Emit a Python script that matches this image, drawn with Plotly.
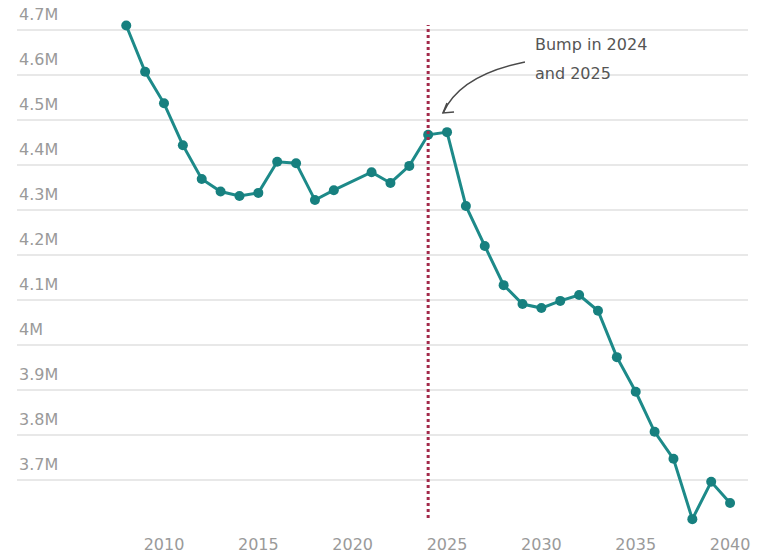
import plotly.graph_objects as go

# ---- data ----
years = list(range(2008, 2041))
values_m = [4.710, 4.607, 4.537, 4.444, 4.369, 4.341, 4.331, 4.338,
            4.407, 4.404, 4.322, 4.344, None, 4.384, 4.360, 4.398,
            4.467, 4.473, 4.309, 4.220, 4.133, 4.091, 4.082, 4.098,
            4.111, 4.076, 3.973, 3.896, 3.807, 3.747, 3.613, 3.696, 3.649]
y_ticks = [3.7, 3.8, 3.9, 4.0, 4.1, 4.2, 4.3, 4.4, 4.5, 4.6, 4.7]
y_tick_labels = ["3.7M", "3.8M", "3.9M", "4M", "4.1M", "4.2M", "4.3M", "4.4M", "4.5M", "4.6M", "4.7M"]
x_ticks = [2010, 2015, 2020, 2025, 2030, 2035, 2040]
marker_year = 2024
note_lines = ["Bump in 2024", "and 2025"]

TEAL = "#1d8a89"
FONT = "DejaVu Sans"

fig = go.Figure()
fig.add_trace(go.Scatter(
    x=years, y=values_m, mode="lines+markers", connectgaps=True,
    line=dict(color=TEAL, width=3),
    marker=dict(color="#17807f", size=10),
    hoverinfo="x+y", showlegend=False,
))
# dotted reference line
fig.add_trace(go.Scatter(
    x=[marker_year, marker_year], y=[3.6156, 4.711], mode="lines",
    line=dict(color="#a3294a", width=3, dash="dot"),
    hoverinfo="skip", showlegend=False,
))

# y tick labels above gridlines
for v, lab in zip(y_ticks, y_tick_labels):
    fig.add_annotation(x=0, xref="paper", y=v, yref="y", text=lab,
                       showarrow=False, xanchor="left", yanchor="middle",
                       yshift=15, font=dict(family=FONT, size=16, color="#9a9a9a"))

# note text
fig.add_annotation(x=2029.56, y=4.667, text=note_lines[0], showarrow=False,
                   xanchor="left", yanchor="middle",
                   font=dict(family=FONT, size=16, color="#555555"))
fig.add_annotation(x=2029.56, y=4.604, text=note_lines[1], showarrow=False,
                   xanchor="left", yanchor="middle",
                   font=dict(family=FONT, size=16, color="#555555"))

# curved arrow
fig.add_shape(type="path", xref="x", yref="y",
              path="M 2029.13,4.6289 Q 2025.69,4.600 2024.79,4.5156",
              line=dict(color="#4a4a4a", width=1.6))
fig.add_shape(type="path", xref="x", yref="y",
              path="M 2025.0,4.5378 L 2024.79,4.5156 L 2025.37,4.5178",
              line=dict(color="#4a4a4a", width=1.6))

fig.update_layout(
    width=773, height=554,
    margin=dict(l=17, r=25, t=10, b=26),
    paper_bgcolor="white", plot_bgcolor="white",
    xaxis=dict(range=[2002.21, 2040.95], tickvals=x_ticks, showgrid=False,
               zeroline=False, showline=False, ticks="outside", ticklen=2,
               tickcolor="rgba(0,0,0,0)", automargin=False,
               tickfont=dict(family=FONT, size=16, color="#9a9a9a")),
    yaxis=dict(range=[3.5933, 4.7444], tickvals=y_ticks, showticklabels=False,
               showgrid=True, gridcolor="#e8e8e8", gridwidth=1.5,
               zeroline=False, showline=False, automargin=False),
)

fig.write_html("out.html")
